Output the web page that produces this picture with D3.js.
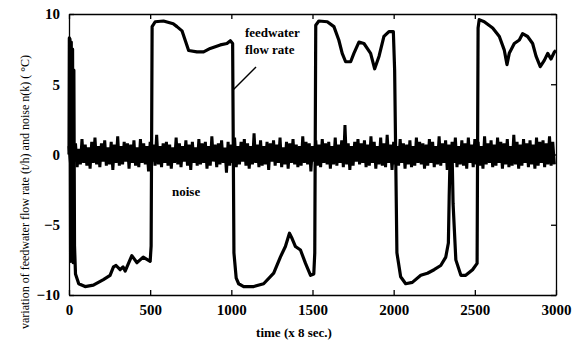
<!DOCTYPE html>
<html>
<head>
<meta charset="utf-8">
<script src="https://cdn.jsdelivr.net/npm/d3@7"></script>
<style>
  body { margin: 0; background: #fff; }
  svg { display: block; }
  text { font-family: "Liberation Serif", "DejaVu Serif", serif; fill: #000; }
</style>
</head>
<body>
<script>
const width = 576;
const height = 343;

const margin = {
    left: 69,
    right: 20,
    top: 14,
    bottom: 48
};

// flow rate trace
const flowX = [0, 2, 6, 10, 14, 18, 22, 26, 30, 34, 40, 60, 99, 150, 212, 253, 274, 290, 315, 333,
    346, 387, 419, 457, 500, 506, 512, 531, 582, 642, 665, 696, 737, 788, 829, 870, 932, 973, 994, 1008,
    1016, 1030, 1045, 1076, 1138, 1199, 1261, 1302, 1333, 1358, 1375, 1395, 1426, 1457, 1488, 1508, 1514, 1520, 1539, 1591,
    1632, 1662, 1683, 1704, 1735, 1755, 1786, 1817, 1858, 1883, 1910, 1940, 1971, 1998, 2006, 2020, 2043, 2074, 2115, 2167,
    2208, 2249, 2290, 2321, 2337, 2342, 2348, 2360, 2366, 2383, 2414, 2444, 2486, 2514, 2520, 2527, 2558, 2610, 2651, 2681,
    2698, 2712, 2743, 2774, 2794, 2825, 2856, 2877, 2903, 2928, 2949, 2969, 2990, 3000];
const flowY = [0, 8.3, 8.2, -7.6, 8.0, -7.2, 7.5, -7.7, 6.0, -6.5, -8.5, -9.2, -9.4, -9.3, -8.9, -8.6, -8.0, -7.9, -8.2, -8.0,
    -8.3, -7.2, -7.7, -7.3, -7.6, -6.5, 9.1, 9.45, 9.5, 9.3, 9.1, 8.8, 7.4, 7.3, 7.3, 7.55, 7.8, 7.9, 8.1, 7.9,
    -7.0, -8.8, -9.2, -9.4, -9.4, -9.2, -8.45, -7.3, -6.55, -5.6, -6.0, -6.55, -6.8, -7.75, -8.6, -8.5, -7.0, 9.2, 9.5, 9.45,
    9.1, 8.15, 7.2, 6.6, 6.6, 7.2, 8.0, 7.9, 7.2, 6.1, 7.0, 8.4, 8.75, 8.75, 6.0, -7.0, -8.7, -9.2, -9.1, -8.6,
    -8.45, -8.2, -7.9, -7.3, -6.3, -3.0, 0.0, 0.0, -3.5, -7.5, -8.6, -8.6, -8.2, -7.75, 9.0, 9.6, 9.45, 9.0, 8.4, 7.45,
    6.4, 7.2, 7.9, 8.15, 8.6, 8.4, 7.9, 7.0, 6.25, 6.7, 7.2, 6.8, 7.3, 7.4];

// noise n(k), one reading every 10 samples
const noiseStep = 10;
const noise = [
    0.6,-0.7,0.9,-0.5,0.8,-0.9,0.4,-0.7,1.1,-0.6,0.7,-0.8,0.5,-1.0,0.9,-0.6,1.2,-0.7,0.6,-0.9,
    0.8,-0.5,1.0,-0.8,0.5,-0.7,0.9,-1.1,0.7,-0.6,1.3,-0.8,0.6,-0.7,0.9,-0.5,0.8,-1.0,0.7,-0.6,
    1.0,-0.8,0.5,-0.9,1.1,-0.6,0.8,-0.7,0.6,-1.2,0.9,-0.5,0.7,-0.8,1.4,-0.7,0.6,-0.9,0.8,-0.6,
    0.9,-0.8,0.7,-1.0,0.5,-0.6,1.2,-0.7,0.8,-0.9,0.6,-0.5,1.0,-0.8,0.7,-1.1,0.9,-0.6,0.5,-0.8,
    1.1,-0.7,0.8,-0.6,0.9,-1.0,0.6,-0.8,1.3,-0.5,0.7,-0.9,0.8,-0.7,1.0,-0.6,0.5,-1.3,0.9,-0.8,
    0.7,-0.6,1.2,-0.9,0.6,-0.7,0.9,-0.5,1.1,-0.8,0.8,-1.0,0.6,-0.7,1.5,-0.6,0.7,-0.9,1.0,-0.8,
    0.6,-0.7,0.9,-1.1,0.8,-0.5,1.0,-0.8,0.7,-0.6,1.2,-0.9,0.5,-0.7,0.9,-1.0,0.8,-0.6,1.1,-0.7,
    0.7,-0.9,0.6,-0.8,1.3,-0.6,0.9,-0.7,0.8,-1.2,0.6,-0.5,1.0,-0.8,0.7,-0.9,1.1,-0.6,0.8,-0.7,
    0.9,-1.0,0.6,-0.7,1.2,-0.8,0.7,-0.6,1.0,-0.9,2.1,-0.7,0.8,-1.1,0.6,-0.8,0.9,-0.5,1.1,-0.7,
    0.8,-0.6,1.0,-0.9,0.7,-0.8,1.3,-0.6,0.9,-1.0,0.6,-0.7,1.2,-0.8,0.8,-0.9,1.4,-0.6,0.7,-1.1,
    0.9,-0.7,0.6,-0.8,1.1,-0.6,0.8,-1.0,0.7,-0.7,1.0,-0.9,0.6,-0.8,1.2,-0.6,0.9,-0.7,0.8,-1.0,
    0.7,-0.8,1.1,-0.6,0.9,-0.9,0.6,-0.7,1.3,-0.8,0.8,-0.6,1.0,-1.1,0.7,-0.8,0.9,-0.6,1.2,-0.9,
    0.6,-0.7,1.0,-0.8,0.8,-1.0,1.2,-0.6,0.7,-0.9,1.1,-0.7,0.9,-0.8,0.6,-1.0,1.3,-0.7,0.8,-0.6,
    1.0,-0.9,0.7,-0.8,1.2,-0.6,0.9,-1.0,0.8,-0.7,1.1,-0.9,0.6,-0.8,1.4,-0.7,0.9,-1.0,0.7,-0.8,
    1.1,-0.6,0.8,-0.9,1.0,-0.7,0.7,-1.0,1.2,-0.8,0.9,-0.6,1.0,-0.9,0.8,-0.7,1.3,-0.8,0.9,-0.7
];

const xTicks = [0, 500, 1000, 1500, 2000, 2500, 3000];
const yTicks = [-10, -5, 0, 5, 10];

let svg = d3.select("body").append("svg")
    .attr("width", width)
    .attr("height", height);

let xScale = d3.scaleLinear()
    .domain([0, 3000])
    .range([margin.left, width - margin.right]);

let yScale = d3.scaleLinear()
    .domain([-10, 10])
    .range([height - margin.bottom, margin.top]);

// lines first, frame on top
let noiseData = noise.map((v, i) => [i * noiseStep, v]);
let flowData = flowX.map((v, i) => [v, flowY[i]]);

let line = d3.line()
    .x(d => xScale(d[0]))
    .y(d => yScale(d[1]));

svg.append("path")
    .datum(noiseData)
    .attr("fill", "none")
    .attr("stroke", "#000")
    .attr("stroke-width", 3)
    .attr("stroke-linejoin", "bevel")
    .attr("d", line);

svg.append("path")
    .datum(flowData)
    .attr("fill", "none")
    .attr("stroke", "#000")
    .attr("stroke-width", 3.2)
    .attr("stroke-linejoin", "round")
    .attr("d", line);

// matlab style box, ticks pointing in
let x0 = xScale.range()[0], x1 = xScale.range()[1];
let y0 = yScale.range()[0], y1 = yScale.range()[1];

let xAxis = svg.append("g")
    .attr("class", "axis axis--x")
    .attr("transform", "translate(0," + y0 + ")")
    .call(d3.axisBottom(xScale).tickValues(xTicks).tickFormat(d3.format("d"))
        .tickSizeInner(-5).tickSizeOuter(0).tickPadding(9));

let xAxisTop = svg.append("g")
    .attr("transform", "translate(0," + y1 + ")")
    .call(d3.axisTop(xScale).tickValues(xTicks).tickSizeInner(-5).tickSizeOuter(0).tickFormat(""));

let yAxis = svg.append("g")
    .attr("class", "axis axis--y")
    .attr("transform", "translate(" + x0 + ",0)")
    .call(d3.axisLeft(yScale).tickValues(yTicks).tickFormat(d3.format("d"))
        .tickSizeInner(-5).tickSizeOuter(0).tickPadding(9));

let yAxisRight = svg.append("g")
    .attr("transform", "translate(" + x1 + ",0)")
    .call(d3.axisRight(yScale).tickValues(yTicks).tickSizeInner(-5).tickSizeOuter(0).tickFormat(""));

svg.selectAll(".domain, .tick line")
    .attr("stroke", "#000")
    .attr("stroke-width", 1.3);

svg.selectAll(".axis text")
    .style("font-family", "Liberation Serif, serif")
    .style("font-size", "15px")
    .style("font-weight", "bold");

svg.append("text")
    .attr("text-anchor", "middle")
    .attr("x", 294)
    .attr("y", 337)
    .style("font-size", "13px")
    .style("font-weight", "bold")
    .text("time (x 8 sec.)");

svg.append("text")
    .attr("text-anchor", "middle")
    .attr("transform", "translate(29,192) rotate(-90)")
    .style("font-size", "12px")
    .text("variation of feedwater flow rate (t/h) and noise n(k) ( \u00B0C)");

// annotations
svg.append("text")
    .attr("x", 245)
    .attr("y", 37)
    .style("font-size", "13px")
    .style("font-weight", "bold")
    .text("feedwater");

svg.append("text")
    .attr("x", 245)
    .attr("y", 54)
    .style("font-size", "13px")
    .style("font-weight", "bold")
    .text("flow rate");

svg.append("line")
    .attr("x1", 256).attr("y1", 67)
    .attr("x2", 233).attr("y2", 90)
    .attr("stroke", "#000")
    .attr("stroke-width", 1.5);

svg.append("text")
    .attr("x", 172)
    .attr("y", 196)
    .style("font-size", "13px")
    .style("font-weight", "bold")
    .text("noise");
</script>
</body>
</html>
